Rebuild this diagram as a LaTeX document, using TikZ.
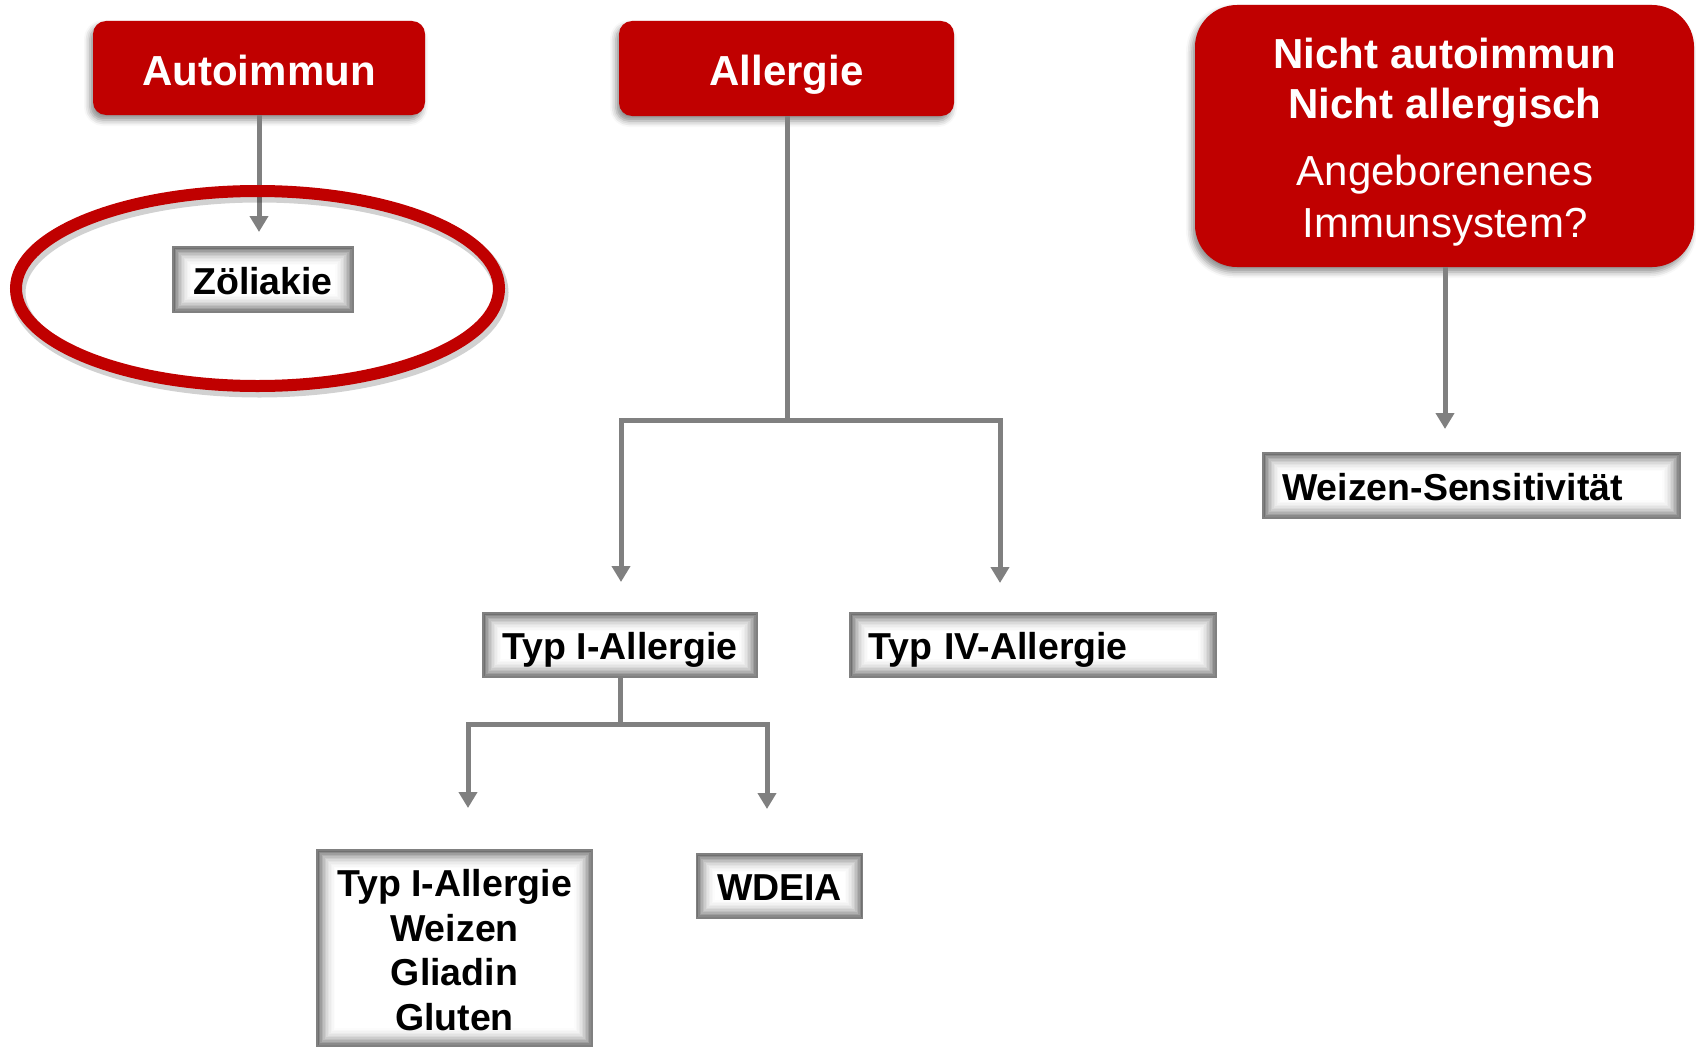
\documentclass[tikz,border=0pt]{standalone}
\usepackage{fontspec}
\setmainfont{Liberation Sans}
\usetikzlibrary{arrows.meta,shapes.geometric,shadows.blur}
\definecolor{boxred}{HTML}{C00000}
\definecolor{linegray}{HTML}{808080}

\begin{document}
\begin{tikzpicture}[x=1pt,y=-1pt,
  redbox/.style={fill=boxred, draw=none, text=white, rounded corners=13pt,
    font=\fontsize{42}{50}\selectfont\bfseries, text height=34pt, text depth=0pt,
    blur shadow={shadow xshift=-3pt, shadow yshift=-5pt, shadow opacity=45, shadow blur radius=6pt}},
  glowbox/.style={draw=black!50, line width=1.2pt, fill=white, inner sep=0pt,
    font=\fontsize{37.5}{45}\selectfont\bfseries, text height=33pt, text depth=4pt,
    path picture={
      \foreach \d/\c in {0/56,1.5/46,3/38,4.5/31,6/25,7.5/20,9/15,10.5/11,12/8,13.5/5,15/3,16.5/1}{
        \fill[black!\c] ([xshift=\d pt,yshift=-\d pt]path picture bounding box.north west)
          rectangle ([xshift=-\d pt,yshift=\d pt]path picture bounding box.south east);
      }
      \fill[white] ([xshift=18pt,yshift=-18pt]path picture bounding box.north west)
        rectangle ([xshift=-18pt,yshift=18pt]path picture bounding box.south east);
    }},
  conn/.style={draw=linegray, line width=5pt},
  arr/.style={conn, -{Triangle[width=18pt,length=16pt]}},
]
\useasboundingbox (0,0) rectangle (1696,1049);

% headline boxes
\node (auto) [redbox, minimum width=332pt, minimum height=94pt] at (259,68) {Autoimmun};
\node (allerg) [redbox, minimum width=335pt, minimum height=95pt] at (786.5,68.5) {Allergie};
\node (nicht) [redbox, rounded corners=42pt, minimum width=499pt, minimum height=262pt] at (1444.5,136) {};
\node (nichttext) [anchor=north, align=center, inner sep=0pt, text=white,
  font=\fontsize{42}{50}\selectfont] at (1445,38)
  {\textbf{Nicht autoimmun}\\\textbf{Nicht allergisch}\\[17pt]Angeborenenes\\[2pt]Immunsystem?};

% disorder boxes
\node (zoel) [glowbox, minimum width=180pt, minimum height=65pt] at (263,279.5) {Zöliakie};
\node (typ1) [glowbox, minimum width=274pt, minimum height=64pt] at (620,645) {Typ I-Allergie};
\node (typ4) [glowbox, text width=330pt, align=left, inner xsep=18pt, minimum height=64pt] at (1033,645) {Typ IV-Allergie};
\node (wz) [glowbox, minimum width=275pt, minimum height=196pt] at (454.5,948) {};
\node (wztext) [anchor=north, align=center, inner sep=0pt,
  font=\fontsize{37.5}{44.5}\selectfont\bfseries] at (454.5,869.5)
  {Typ I-Allergie\\Weizen\\Gliadin\\Gluten};
\node (wdeia) [glowbox, minimum width=166pt, minimum height=64pt] at (779.5,886) {WDEIA};
\node (ws) [glowbox, text width=379pt, align=left, inner xsep=19pt, minimum height=65pt] at (1471.5,485.5) {Weizen-Sensitivität};

% connector ends and branch points
\coordinate (tz) at (259,232);
\coordinate (s1) at (787,420);
\coordinate (t1) at (621,582);
\coordinate (t4) at (1000,583);
\coordinate (s2) at (620,724);
\coordinate (t11) at (468,808);
\coordinate (t12) at (767,809);
\coordinate (t5) at (1445,429);

\draw[arr] (auto.south -| tz) -- (tz);
\draw[conn] (allerg.south -| s1) -- ([yshift=-2.5pt]s1);
\draw[arr] (s1) -| (t1);
\draw[arr] (s1) -| (t4);
\draw[conn] (typ1.south -| s2) -- ([yshift=-2.5pt]s2);
\draw[arr] (s2) -| (t11);
\draw[arr] (s2) -| (t12);
\draw[arr] (nicht.south -| t5) -- (t5);

% highlight ring around the coeliac box
\node (ring) [ellipse, draw=boxred, line width=12pt, minimum width=483pt, minimum height=195pt, inner sep=0pt,
  preaction={draw=black, draw opacity=.18, line width=15pt, transform canvas={shift={(2pt,-4pt)}}}]
  at (257.5,288.5) {};
\end{tikzpicture}
\end{document}
